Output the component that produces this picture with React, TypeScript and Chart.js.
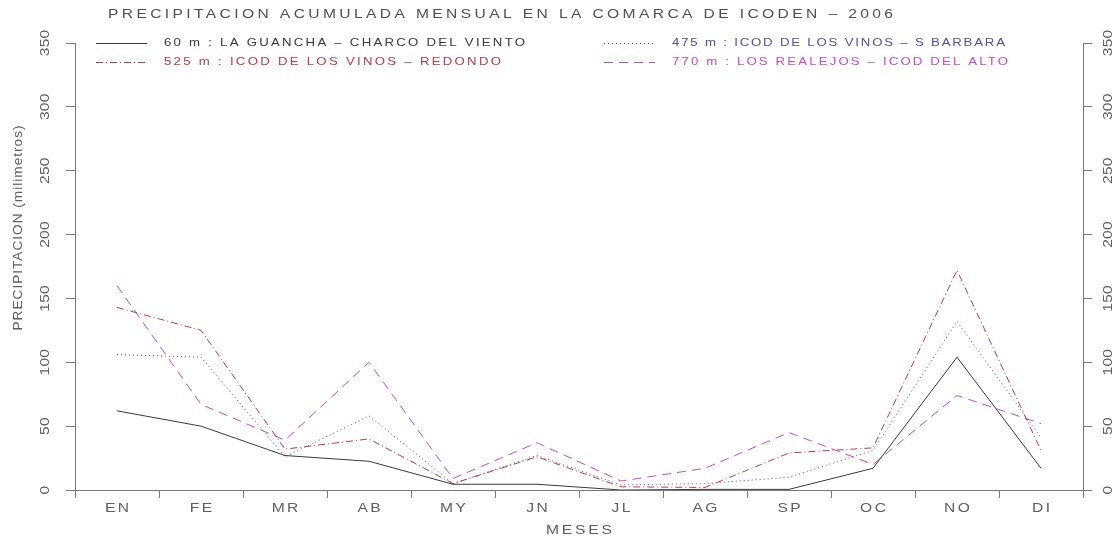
import React, { useEffect, useRef } from "react";
import { Chart, registerables } from "chart.js";

Chart.register(...registerables);

const months = ["EN", "FE", "MR", "AB", "MY", "JN", "JL", "AG", "SP", "OC", "NO", "DI"];
const yTickValues = [0, 50, 100, 150, 200, 250, 300, 350];

const guancha60 = [62, 50, 27, 22.5, 4.5, 4.5, 0, 0.5, 0.5, 17, 104, 17];
const sBarbara475 = [106, 104, 26, 58, 5, 27, 4, 5, 10, 31, 132, 41];
const redondo525 = [143, 125, 32, 40, 5, 26, 2.5, 2, 29, 33, 172, 31];
const icodAlto770 = [160, 67, 39, 100, 9, 37, 7, 17, 45, 20, 74, 52];

const titleText = "PRECIPITACION ACUMULADA MENSUAL EN LA COMARCA DE ICODEN – 2006";
const yTitleText = "PRECIPITACION (milimetros)";
const xTitleText = "MESES";
const legendLabels = [
  "60 m : LA GUANCHA – CHARCO DEL VIENTO",
  "475 m : ICOD DE LOS VINOS – S BARBARA",
  "525 m : ICOD DE LOS VINOS – REDONDO",
  "770 m : LOS REALEJOS – ICOD DEL ALTO",
];

const C_BLACK = "#3a3a3a";
const C_BLUE = "#55509e";
const C_RED = "#b83c4c";
const C_MAG = "#c24ec6";
const AXIS = "#7a7a7a";
const TEXT = "#606060";
const FONT = "'Liberation Sans', Arial, sans-serif";

// draws text stretched horizontally (Hershey-like wide glyphs) to a target width
function fitText(
  ctx: CanvasRenderingContext2D,
  text: string,
  x: number,
  y: number,
  width: number | null,
  align: "left" | "center",
  size: number,
  color: string,
  rotate = false,
  maxStretch = 1.2,
  natSpacing = 2
) {
  ctx.save();
  ctx.font = `${size}px ${FONT}`;
  (ctx as any).letterSpacing = "0px";
  const chars = Array.from(text).length;
  const w0 = ctx.measureText(text).width;
  const target = width == null ? w0 * maxStretch + natSpacing * (chars - 1) * maxStretch : width;
  const sx = Math.min(target / w0, maxStretch);
  const ls = chars > 1 ? (target / sx - w0) / (chars - 1) : 0;
  (ctx as any).letterSpacing = `${ls}px`;
  ctx.fillStyle = color;
  ctx.textBaseline = "middle";
  ctx.textAlign = "left";
  ctx.translate(x, y);
  if (rotate) ctx.rotate(-Math.PI / 2);
  const startX = align === "center" ? -target / 2 : 0;
  ctx.translate(startX, 0);
  ctx.scale(sx, 1);
  ctx.fillText(text, 0, 0);
  ctx.restore();
}

const textPlugin = {
  id: "textPlugin",
  afterDraw(chart: any) {
    const ctx = chart.ctx as CanvasRenderingContext2D;
    const x = chart.scales.x;
    const yl = chart.scales.y;
    const yr = chart.scales.y2;

    // title
    fitText(ctx, titleText, 108, 14, 785, "left", 13, "#505050", false, 1.2);

    // legend
    const rows = [43, 62];
    const cols = [
      { sx0: 96, sx1: 147, tx: 164 },
      { sx0: 604, sx1: 655, tx: 672 },
    ];
    const legendItems = [
      { col: 0, row: 0, color: C_BLACK, dash: [] as number[], w: 361 },
      { col: 1, row: 0, color: C_BLUE, dash: [1, 3], w: 333 },
      { col: 0, row: 1, color: C_RED, dash: [7, 3, 1, 3], w: 337 },
      { col: 1, row: 1, color: C_MAG, dash: [9, 6], w: 336 },
    ];
    legendItems.forEach((it, i) => {
      const c = cols[it.col];
      const yy = rows[it.row];
      ctx.save();
      ctx.strokeStyle = it.color;
      ctx.lineWidth = 1;
      ctx.setLineDash(it.dash);
      ctx.beginPath();
      ctx.moveTo(c.sx0, yy + 0.5);
      ctx.lineTo(c.sx1, yy + 0.5);
      ctx.stroke();
      ctx.restore();
      fitText(ctx, legendLabels[i], c.tx, yy, it.w, "left", 11, it.color, false, 1.2);
    });

    // y tick labels (both sides)
    yTickValues.forEach((v) => {
      const s = String(v);
      const w = s.length * 8.8;
      fitText(ctx, s, 45, yl.getPixelForValue(v), w, "center", 13, TEXT, true, 1.2);
      fitText(ctx, s, 1108, yr.getPixelForValue(v), w, "center", 13, TEXT, true, 1.2);
    });

    // x tick labels
    months.forEach((m, i) => {
      fitText(ctx, m, x.getPixelForValue(i), 508, null, "center", 13, TEXT, false, 1.2, 2);
    });

    // axis titles
    fitText(ctx, xTitleText, (x.left + x.right) / 2, 530, 66, "center", 13, TEXT, false, 1.2);
    fitText(ctx, yTitleText, 18, 228, 205, "center", 13, TEXT, true, 1.05);
  },
};

export default function App() {
  const ref = useRef<HTMLCanvasElement | null>(null);

  useEffect(() => {
    if (!ref.current) return;
    const mk = (label: string, data: number[], color: string, dash: number[]) => ({
      label,
      data,
      borderColor: color,
      backgroundColor: color,
      borderWidth: 1,
      borderDash: dash,
      pointRadius: 0,
      tension: 0,
      fill: false,
      yAxisID: "y",
    });
    const chart = new Chart(ref.current, {
      type: "line",
      data: {
        labels: months,
        datasets: [
          mk(legendLabels[0], guancha60, C_BLACK, []),
          mk(legendLabels[1], sBarbara475, C_BLUE, [1, 3]),
          mk(legendLabels[2], redondo525, C_RED, [7, 3, 1, 3]),
          mk(legendLabels[3], icodAlto770, C_MAG, [9, 6]),
        ],
      },
      options: {
        responsive: false,
        animation: false,
        layout: { padding: { top: 43, left: 0, right: 0, bottom: 0 } },
        plugins: {
          legend: { display: false },
          title: { display: false },
          tooltip: { enabled: false },
        },
        scales: {
          x: {
            type: "category",
            offset: true,
            grid: {
              offset: true,
              drawOnChartArea: false,
              drawTicks: true,
              tickLength: 8,
              color: AXIS,
            },
            border: { display: true, color: AXIS, width: 1 },
            ticks: { display: false },
            afterFit: (s: any) => {
              s.height = 48;
            },
          },
          y: {
            position: "left",
            min: 0,
            max: 350,
            ticks: { display: false, stepSize: 50 },
            grid: { drawOnChartArea: false, drawTicks: true, tickLength: 9, color: AXIS },
            border: { display: true, color: AXIS, width: 1 },
            afterFit: (s: any) => {
              s.width = 75;
            },
          },
          y2: {
            position: "right",
            axis: "y",
            min: 0,
            max: 350,
            ticks: { display: false, stepSize: 50 },
            grid: { drawOnChartArea: false, drawTicks: true, tickLength: 9, color: AXIS },
            border: { display: true, color: AXIS, width: 1 },
            afterFit: (s: any) => {
              s.width = 35;
            },
          },
        },
      } as any,
      plugins: [textPlugin],
    });
    return () => chart.destroy();
  }, []);

  return (
    <div style={{ position: "fixed", left: 0, top: 0, width: 1118, height: 538, background: "#fff" }}>
      <canvas ref={ref} width={1118} height={538} style={{ display: "block" }} />
    </div>
  );
}
